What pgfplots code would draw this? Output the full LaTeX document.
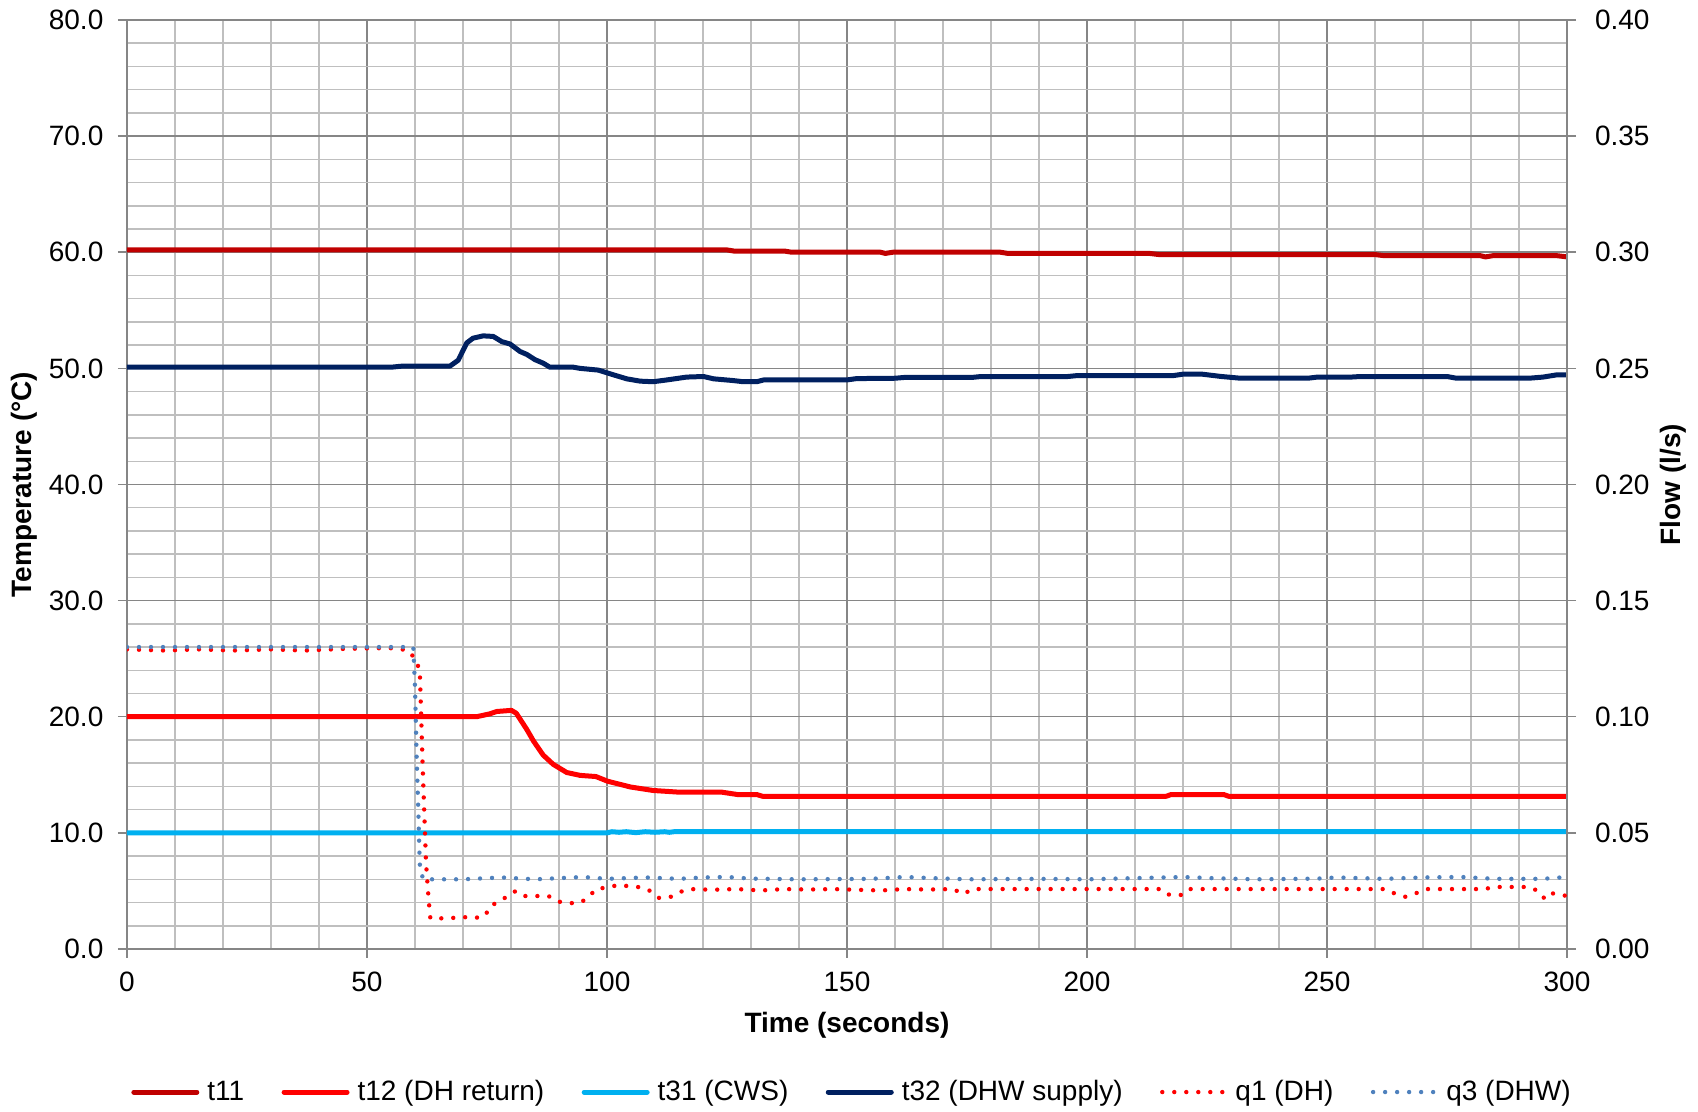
\documentclass[border=0pt]{standalone}
\usepackage{fontspec}
\setmainfont{Liberation Sans}
\usepackage{pgfplots}
\pgfplotsset{compat=1.18}

\definecolor{tEleven}{HTML}{C00000}
\definecolor{tTwelve}{HTML}{FF0000}
\definecolor{tThirtyOne}{HTML}{00B0F0}
\definecolor{tThirtyTwo}{HTML}{002060}
\definecolor{qOne}{HTML}{FF0000}
\definecolor{qThree}{HTML}{4F81BD}
\definecolor{gridminor}{HTML}{BFBFBF}
\definecolor{gridmajor}{HTML}{868686}

\newcommand\lbl{\fontsize{14pt}{16pt}\selectfont}

\pgfplotsset{
  tline/.style={line width=2.5pt, line cap=round, line join=round},
  qline/.style={line width=2.2pt, line cap=round, dash pattern=on 0pt off 6pt},
  base/.style={
    scale only axis, width=720pt, height=464.5pt,
    xmin=0, xmax=300,
    at={(63.5pt,81.5pt)}, anchor=south west,
    axis line style={gridmajor, line width=0.75pt},
    tick style={gridmajor, line width=0.75pt},
    major tick length=4.5pt,
    minor tick length=0pt,
    tick align=outside,
    tick label style={font=\lbl, /pgf/number format/assume math mode=true},
    scaled y ticks=false,
  },
}

\begin{document}
\begin{tikzpicture}
\path[use as bounding box] (0,0) rectangle (849pt,556pt);

% temperatures on the left axis
\begin{axis}[base,
  ymin=0, ymax=80,
  axis x line*=bottom, axis y line*=left,
  xtick={0,50,100,150,200,250,300}, minor x tick num=4,
  ytick={0,10,20,30,40,50,60,70,80}, minor y tick num=4,
  grid=both,
  major grid style={gridmajor, line width=0.75pt},
  minor grid style={gridminor, line width=0.75pt},
  yticklabel style={/pgf/number format/.cd, fixed, fixed zerofill, precision=1, /tikz/.cd, xshift=-3.8pt},
  xticklabel style={anchor=center, yshift=-12pt},
  every axis x label/.style={at={(axis description cs:0.5,-0.0817)}, anchor=center, font=\lbl\bfseries},
  every axis y label/.style={at={(axis description cs:-0.0715,0.5)}, rotate=90, anchor=center, font=\lbl\bfseries},
  xlabel={Time (seconds)}, ylabel={Temperature (°C)},
]
\addplot[tEleven, tline] coordinates {
(0,60.2) (125,60.2) (126.5,60.1) (137,60.1) (138.5,60.0) (157,60.0) (158,59.9)
(159.5,60.0) (182,60.0) (183.5,59.9) (213,59.9) (215,59.8) (260,59.8) (262,59.7)
(282,59.7) (283,59.6) (284.5,59.7) (298,59.7) (300,59.6)};
\addplot[tTwelve, tline] coordinates {
(0,20.0) (72.8,20.0) (75.6,20.25) (77,20.45) (80.1,20.55) (81.1,20.3) (83.3,18.9)
(84.7,17.9) (86.7,16.7) (88.8,15.9) (91.6,15.2) (94.4,14.95) (97.7,14.85)
(100.1,14.45) (104.9,13.95) (109.6,13.65) (115.2,13.5) (124,13.5) (127.2,13.3)
(131.2,13.3) (132.4,13.15) (216.5,13.15) (217.5,13.3) (228.5,13.3) (229.5,13.15)
(300,13.15)};
\addplot[tThirtyOne, tline] coordinates {
(0,10.0) (100,10.0) (101,10.1) (102.5,10.05) (104,10.1) (106,10.02) (108,10.1)
(110,10.05) (112,10.1) (113,10.05) (114,10.1) (300,10.1)};
\addplot[tThirtyTwo, tline] coordinates {
(0,50.1) (55,50.1) (57.5,50.2) (67.3,50.2) (69,50.7) (70.8,52.2) (72.1,52.6)
(74.2,52.8) (76.3,52.75) (78.1,52.3) (79.8,52.1) (81.9,51.45) (83.3,51.2)
(85,50.75) (86.7,50.45) (88.1,50.1) (93,50.1) (94.4,50.0) (98.2,49.85)
(101.3,49.45) (104.1,49.1) (106.9,48.9) (109.6,48.85) (112.4,49.0) (116.6,49.25)
(120.1,49.3) (122.2,49.1) (126.3,48.95) (128.4,48.85) (131.2,48.85) (132.6,49.0)
(149.9,49.0) (152,49.12) (160,49.15) (162,49.22) (176,49.22) (178,49.3) (196,49.3)
(198,49.38) (218,49.38) (220,49.5) (224,49.5) (228,49.3) (232,49.15) (246,49.15)
(248,49.25) (255,49.25) (257,49.3) (275,49.3) (277,49.15) (292,49.15) (295,49.25)
(298,49.45) (300,49.45)};
\end{axis}

% flows on the right axis, legend for all series
\begin{axis}[base,
  ymin=0, ymax=0.4,
  axis x line=none, axis y line*=right,
  ytick={0,0.05,0.1,0.15,0.2,0.25,0.3,0.35,0.4},
  yticklabel style={/pgf/number format/.cd, fixed, fixed zerofill, precision=2, /tikz/.cd, xshift=6pt},
  every axis y label/.style={at={(axis description cs:1.0736,0.5)}, rotate=90, anchor=center, font=\lbl\bfseries},
  ylabel={Flow (l/s)},
  legend image code/.code={\draw[#1] (0pt,0pt) -- (31.5pt,0pt);},
  legend columns=-1,
  legend style={at={(axis description cs:0.5042,-0.154)}, anchor=center,
    draw=none, fill=none, font=\lbl,
    /tikz/every odd column/.append style={column sep=2pt},
    /tikz/every even column/.append style={column sep=16.7pt}},
]
\addlegendimage{tEleven, tline}\addlegendentry{t11}
\addlegendimage{tTwelve, tline}\addlegendentry{t12 (DH return)}
\addlegendimage{tThirtyOne, tline}\addlegendentry{t31 (CWS)}
\addlegendimage{tThirtyTwo, tline}\addlegendentry{t32 (DHW supply)}
\addplot[qOne, qline] coordinates {
(0,0.1290) (8,0.1285) (15,0.1290) (22,0.1285) (30,0.1290) (37,0.1285) (45,0.1292)
(52,0.1295) (56,0.1295) (58.6,0.1285) (60.0,0.1250) (61.0,0.1200) (61.6,0.0785)
(62.3,0.0370) (62.85,0.0210) (63.2,0.0132) (67.3,0.0132) (69.7,0.0139)
(72.1,0.0132) (74.6,0.0142) (75.6,0.0183) (77.7,0.0208) (79.4,0.0228) (81,0.0250)
(83,0.0228) (87.8,0.0228) (89.9,0.0204) (92.2,0.0197) (94.5,0.0200) (96.1,0.0222)
(97.7,0.0258) (100,0.0265) (102.3,0.0275) (107.3,0.0265) (109,0.0250)
(110.9,0.0219) (113.3,0.0225) (115.1,0.0245) (117.3,0.0258) (122,0.0255)
(127,0.0258) (132,0.0252) (137,0.0258) (142,0.0256) (147,0.0258) (152,0.0255)
(157,0.0252) (162,0.0258) (167,0.0256) (172,0.0258) (174.4,0.0237) (176,0.0258)
(215,0.0258) (216.5,0.0235) (219.5,0.0232) (221,0.0258) (262,0.0258) (264,0.0240)
(266.3,0.0225) (268.5,0.0240) (271,0.0258) (283,0.0258) (284.5,0.0267)
(292,0.0267) (294,0.0250) (295.4,0.0215) (296.9,0.0240) (298.9,0.0230)
(300,0.0230)};
\addlegendentry{q1 (DH)}
\addplot[qThree, qline] coordinates {
(0,0.1300) (59.65,0.1300) (60.0,0.1130) (60.35,0.0820) (60.7,0.0590) (60.9,0.0430)
(61.04,0.0350) (61.7,0.0300) (70,0.0300) (78,0.0308) (85,0.0300) (90,0.0305)
(95,0.0310) (100,0.0302) (108,0.0308) (115,0.0302) (120,0.0308) (125,0.0310)
(130,0.0303) (140,0.0300) (155,0.0302) (162,0.0310) (168,0.0305) (175,0.0300)
(190,0.0302) (200,0.0300) (210,0.0305) (220,0.0310) (226,0.0305) (235,0.0300)
(248,0.0303) (252,0.0308) (262,0.0302) (270,0.0308) (278,0.0310) (285,0.0302)
(295,0.0302) (300,0.0310)};
\addlegendentry{q3 (DHW)}
\end{axis}
\end{tikzpicture}
\end{document}
